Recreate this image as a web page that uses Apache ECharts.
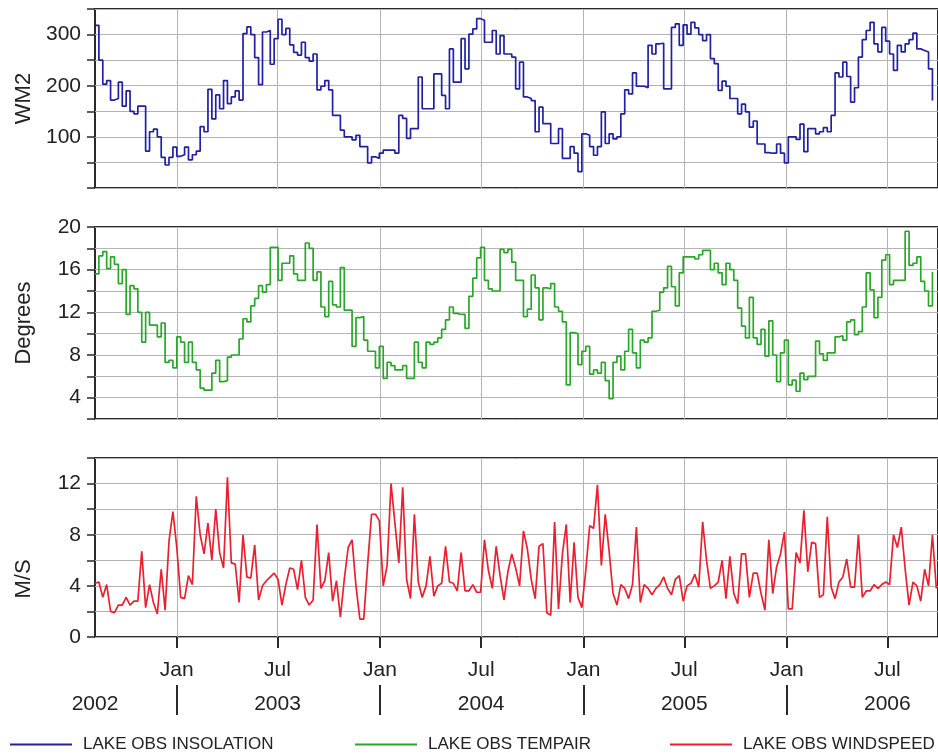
<!DOCTYPE html>
<html>
<head>
<meta charset="utf-8">
<script src="https://cdn.jsdelivr.net/npm/echarts@6/dist/echarts.min.js"></script>
<style>html,body{margin:0;padding:0;background:#fff}#c{width:938px;height:754px}</style>
</head>
<body>
<div id="c"></div>
<script>
// ---- data (weekly observations) ----
const firstWeek = '2002-08-07';
const axisStart = '2002-08-07';
const axisEnd = '2006-09-30';

const insolation = [
318,250,203,210,172,175,207,160,190,150,145,160,160,72,110,115,100,60,45,60,
80,62,65,80,55,65,72,120,110,193,135,182,155,210,165,178,190,172,302,315,
300,255,202,305,308,242,292,330,300,312,280,265,260,285,255,248,262,192,
199,210,192,142,142,113,100,100,94,103,81,81,49,61,58,68,74,74,74,68,
142,136,97,116,116,217,155,155,155,223,223,181,155,272,207,207,292,233,301,311,
331,328,285,285,308,262,298,262,262,256,194,246,178,175,171,110,158,126,126,87,
87,116,58,58,81,68,32,106,103,81,64,81,149,87,106,96,
100,145,192,184,225,199,199,196,279,262,282,283,194,194,314,321,279,319,301,324,
313,300,288,300,253,243,191,209,199,175,175,145,164,149,119,131,86,86,69,68,
68,86,68,49,100,100,95,125,71,116,116,106,110,118,110,142,225,217,246,218,
168,196,256,290,308,324,282,266,314,287,262,230,279,266,282,290,303,272,269,266,
233,171
];

const tempAir = [
15.6,17.3,17.7,16.1,17.2,16.5,14.7,16.0,11.8,14.5,14.2,12.0,9.2,12.0,10.8,10.8,9.7,11.0,7.3,7.5,
6.8,9.7,9.2,7.3,9.2,7.3,6.6,4.9,4.7,4.7,6.3,7.5,5.5,5.6,7.8,8.0,8.0,9.5,11.4,11.1,
12.6,13.3,14.5,13.9,14.6,18.1,18.1,15.0,16.6,16.6,17.3,15.6,15.0,15.0,18.5,18.0,15.0,15.8,
12.5,11.6,14.9,12.7,12.5,16.2,12.2,12.2,8.8,11.5,11.6,9.4,8.35,8.35,6.8,8.8,5.8,7.3,7.0,6.6,
6.6,7.0,5.8,5.8,9.2,7.3,6.8,9.2,9.0,9.2,9.6,10.4,11.3,12.5,11.9,11.8,11.8,10.5,13.5,15.2,
17.1,18.1,15.0,14.2,14.0,14.0,17.9,17.6,17.9,16.7,15.0,15.0,11.6,12.3,15.5,14.3,11.3,14.3,14.2,14.7,
12.5,12.1,11.1,5.2,10.1,10.0,7.1,8.35,8.8,6.2,6.6,6.3,7.3,5.6,3.9,7.3,
7.9,6.6,8.35,10.4,8.2,6.8,9.4,9.2,9.6,12.1,12.2,13.9,14.3,16.3,14.4,12.6,15.7,17.2,17.2,17.2,
17.0,17.4,17.8,17.8,16.0,16.6,15.7,14.6,16.6,16.0,15.0,12.4,10.7,9.6,13.4,9.6,9.0,10.4,7.9,11.2,
8.0,5.5,8.2,9.4,5.2,5.65,4.6,6.3,5.7,6.0,6.0,9.3,8.1,7.5,8.2,8.2,9.7,9.8,9.4,11.1,
11.3,9.9,10.2,12.5,15.7,14.1,11.5,13.4,16.9,17.4,14.6,15.0,15.0,15.0,19.6,16.4,16.6,17.2,14.9,14.0,
12.6,15.8
];

const windSpeed = [
4.2,4.3,3.1,4.1,2.0,1.9,2.5,2.5,3.1,2.5,2.8,2.8,6.7,2.3,4.1,2.7,1.8,5.3,2.1,7.5,
9.8,7.0,3.1,3.0,4.8,4.1,11.0,8.0,6.5,8.9,6.0,10.0,6.6,5.4,12.5,5.8,5.7,2.7,8.0,4.7,
4.6,7.2,2.9,4.0,4.4,4.7,5.0,4.5,2.5,4.1,5.4,5.3,3.7,6.0,3.1,2.5,2.9,8.8,
3.8,4.4,6.6,2.8,4.4,1.55,4.5,7.0,7.6,4.0,1.4,1.4,5.7,9.6,9.6,
9.1,4.0,5.6,12.0,8.9,5.8,11.7,4.5,3.0,9.6,4.3,3.1,4.0,6.3,3.2,4.0,4.2,7.1,4.3,4.2,
3.6,6.6,3.6,3.6,4.1,3.5,3.5,7.6,5.2,3.8,7.1,4.8,2.9,5.1,6.5,5.4,4.0,8.3,6.9,4.5,
3.0,7.1,7.3,1.9,1.7,9.0,2.2,6.5,8.8,2.7,7.4,3.1,2.3,5.2,8.7,8.5,11.9,5.6,9.6,
6.7,3.4,2.5,
4.1,3.8,3.0,4.1,8.6,2.7,4.1,3.8,3.3,3.8,4.1,4.7,3.8,3.3,4.5,4.8,2.8,4.0,4.2,4.9,
3.9,9.0,6.0,3.8,4.0,4.3,6.0,3.0,6.3,3.4,2.6,6.5,6.5,3.1,5.0,5.0,3.4,2.1,7.6,3.4,
5.5,6.5,8.2,2.2,2.2,6.6,5.8,9.9,5.1,7.4,7.3,3.1,3.3,9.4,3.9,3.0,4.3,4.7,6.1,3.9,
3.9,8.0,3.1,3.6,3.6,4.1,3.8,4.1,4.3,4.1,8.0,7.0,8.6,5.3,2.5,4.3,4.0,2.8,5.3,4.0,
8.0,3.8
];

const seriesNames = ['LAKE OBS INSOLATION', 'LAKE OBS TEMPAIR', 'LAKE OBS WINDSPEED'];
const axisNames = ['WM2', 'Degrees', 'M/S'];
const monthTickDates = ['2003-01-01','2003-07-01','2004-01-01','2004-07-01','2005-01-01','2005-07-01','2006-01-01','2006-07-01'];
const monthTickTexts = ['Jan','Jul','Jan','Jul','Jan','Jul','Jan','Jul'];
const yearDividerDates = ['2003-01-01','2004-01-01','2005-01-01','2006-01-01'];
const yearLabelDates = ['2002-08-07','2003-07-01','2004-07-01','2005-07-01','2006-07-01'];
const yearLabelTexts = ['2002','2003','2004','2005','2006'];

// ---- helpers ----
function toTime(s){ const p = s.split('-').map(Number); return Date.UTC(p[0], p[1]-1, p[2]); }
const DAY = 86400000;
const t0 = toTime(firstWeek);
function weekly(arr){ return arr.map((v,i)=>[t0 + i*7*DAY, v]); }
const monthTickTimes = monthTickDates.map(toTime);
const yearDividerTimes = yearDividerDates.map(toTime);
const yearLabelTimes = yearLabelDates.map(toTime);
const xMin = toTime(axisStart), xMax = toTime(axisEnd);

const FONT = "'Liberation Sans', Arial, sans-serif";
const GRIDC = '#b4b4b4';
const DARK = '#2a2a2a';
const colors = ['#2020a4', '#2aa62a', '#ea2030'];

function findText(times, texts, v){
  for (let i=0;i<times.length;i++){ if (Math.abs(times[i]-v) < DAY/2) return texts[i]; }
  return '';
}

const grids = [
  {left:95, right:-2, top:9, height:179},
  {left:95, right:-2, top:227, height:192},
  {left:95, right:-2, top:458, height:179}
].map(g => Object.assign(g, {show:true, borderColor:DARK, borderWidth:2, containLabel:false}));

function xAxisFor(gi){
  const bottom = gi === 2;
  return {
    type:'value', gridIndex:gi, min:xMin, max:xMax,
    axisLine:{show:false},
    axisTick:{show:bottom, customValues:monthTickTimes, length:11, lineStyle:{color:DARK, width:2}},
    axisLabel:{show:bottom, customValues:monthTickTimes, margin:23, fontSize:21, color:'#222', fontFamily:FONT,
      formatter:(v)=>findText(monthTickTimes, monthTickTexts, v)},
    splitLine:{show:true, lineStyle:{color:GRIDC, width:1}}
  };
}

const yRanges = [
  {min:0, max:350, interval:50, labelEvery:100},
  {min:2, max:20, interval:2, labelEvery:4},
  {min:0, max:14, interval:2, labelEvery:4}
];

const yAxes = yRanges.map((r, gi) => ({
  type:'value', gridIndex:gi, min:r.min, max:r.max, interval:r.interval,
  name:axisNames[gi], nameLocation:'middle', nameRotate:90, nameGap:60,
  nameTextStyle:{fontSize:22, color:'#222', fontFamily:FONT, padding: gi===2 ? [0,63,0,0] : 0},
  axisLine:{show:false},
  axisTick:{show:true, length:8, lineStyle:{color:DARK, width:1.5}},
  axisLabel:{fontSize:21, color:'#222', fontFamily:FONT, margin:14,
    formatter:(v)=>{
      if (Math.abs(v % r.labelEvery) > 1e-9) return '';
      if (gi===0 && v===0) return '';
      return String(v);
    }},
  splitLine:{show:true, lineStyle:{color:GRIDC, width:1}}
}));

const xAxes = [xAxisFor(0), xAxisFor(1), xAxisFor(2), {
  type:'value', gridIndex:2, min:xMin, max:xMax, position:'bottom', offset:48,
  axisLine:{show:false},
  axisTick:{show:true, customValues:yearDividerTimes, length:30, lineStyle:{color:DARK, width:2}},
  axisLabel:{show:true, customValues:yearLabelTimes, margin:9, fontSize:21, color:'#222', fontFamily:FONT,
    formatter:(v)=>findText(yearLabelTimes, yearLabelTexts, v)},
  splitLine:{show:false}
}];

const datasets = [insolation, tempAir, windSpeed];
const series = datasets.map((arr, i) => ({
  name:seriesNames[i], type:'line', xAxisIndex:i, yAxisIndex:i,
  step: i < 2 ? 'end' : false,
  symbol:'none', showSymbol:false, clip:true,
  data:weekly(arr),
  lineStyle:{color:colors[i], width:1.7},
  itemStyle:{color:colors[i]},
  emphasis:{disabled:true}
}));

const legendLefts = [5, 350, 665];
const legends = seriesNames.map((n, i) => ({
  data:[{name:n, icon:'rect'}], left:legendLefts[i], top:731, itemWidth:62, itemHeight:2,
  selectedMode:false,
  textStyle:{fontSize:17, color:'#222', fontFamily:FONT, padding:[0,0,0,6]}
}));

const chart = echarts.init(document.getElementById('c'), null, {renderer:'canvas'});
chart.setOption({
  animation:false,
  backgroundColor:'#ffffff',
  textStyle:{fontFamily:FONT},
  grid:grids,
  xAxis:xAxes,
  yAxis:yAxes,
  legend:legends,
  series:series
});
</script>
</body>
</html>
